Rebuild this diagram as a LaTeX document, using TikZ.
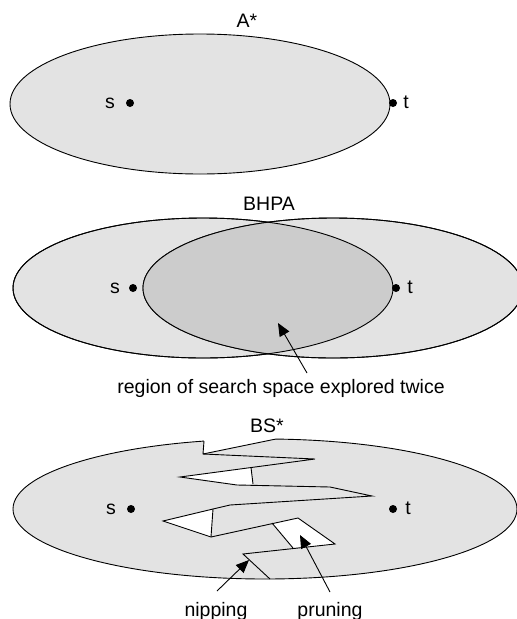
\documentclass[tikz,border=0pt]{standalone}
\usepackage{fontspec}
\setmainfont{Liberation Sans}
\usepackage{xcolor}
\definecolor{lightgrey}{gray}{0.89}
\definecolor{darkgrey}{gray}{0.80}
\usetikzlibrary{arrows.meta}
\tikzset{label text/.style={font=\fontsize{19.5}{22}\selectfont,inner sep=0pt,anchor=base},
 dot/.style={circle,fill=black,inner sep=0pt,minimum size=8pt},
 space/.style={draw=black,fill=lightgrey,line width=0.9pt},
 cut/.style={draw=black,line width=0.9pt,line join=miter},
 pointer/.style={draw=black,line width=0.9pt,-{Triangle[length=13pt,width=11pt]}},
 }

\begin{document}
\begin{tikzpicture}[x=1pt,y=-1pt]
        \useasboundingbox (0,0) rectangle (517,619);
        \node[label text] (astar) at (247,27) {A*};
        \path[space] (200,104) ellipse [x radius=190,y radius=70];
        \node[dot] (s1) at (130,103) {};
        \node[dot] (t1) at (393,103) {};
        \node[label text] at (110,108) {s};
        \node[label text] at (406,108) {t};

        \node[label text] (bhpa) at (269,210) {BHPA};
        \path[space] (203,288) ellipse [x radius=190,y radius=70];
        \path[space] (333,288) ellipse [x radius=190,y radius=70];
        \begin{scope}
            \clip (203,288) ellipse [x radius=190,y radius=70];
            \fill[darkgrey] (333,288) ellipse [x radius=190,y radius=70];
        \end{scope}
        \draw[line width=0.9pt] (203,288) ellipse [x radius=190,y radius=70];
        \draw[line width=0.9pt] (333,288) ellipse [x radius=190,y radius=70];
        \node[dot] (s2) at (133,288) {};
        \node[dot] (t2) at (396,288) {};
        \node[label text] at (115,293) {s};
        \node[label text] at (410,293) {t};
        \node[label text] (twice) at (281,393) {region of search space explored twice};
        \coordinate (twicetail) at (307,373);
        \coordinate (twicetip) at (278,323);
        \draw[pointer] (twicetail) -- (twicetip);

        \path[space] (265,509) ellipse [x radius=252,y radius=70];
        \fill[white] (204,436) -- (204,441) -- (203,454) -- (275,439.2) -- (275,436) -- cycle;
        \fill[white] (180,477) -- (251,467.5) -- (253,484) -- (237,485) -- cycle;
        \fill[white] (163,521) -- (213,509) -- (211,537) -- cycle;
        \fill[white] (272,523) -- (298,518) -- (335,544) -- (293,548) -- cycle;
        \draw[cut] (204,441) -- (203,454) -- (315,459) -- (180,477) -- (237,485)
            -- (330,487) -- (372,496) -- (230,505) -- (213,509) -- (163,521)
            -- (211,537) -- (298,518) -- (335,544) -- (243,554) -- (270,579);
        \draw[cut] (203,454) -- (275,439.2);
        \draw[cut] (251,467.5) -- (253,484);
        \draw[cut] (213,509) -- (211,537);
        \draw[cut] (272,523) -- (293,548);
        \node[label text] (bsstar) at (267,432) {BS*};
        \node[dot] (s3) at (131,509) {};
        \node[dot] (t3) at (393,509) {};
        \node[label text] at (111,514) {s};
        \node[label text] at (408,514) {t};
        \node[label text] (nipping) at (216,616) {nipping};
        \node[label text] (pruning) at (330,616) {pruning};
        \coordinate (niptail) at (217,591);
        \coordinate (niptip) at (249,560);
        \coordinate (prunetail) at (330,592);
        \coordinate (prunetip) at (300,535);
        \draw[pointer] (niptail) -- (niptip);
        \draw[pointer] (prunetail) -- (prunetip);
    \end{tikzpicture}
\end{document}
